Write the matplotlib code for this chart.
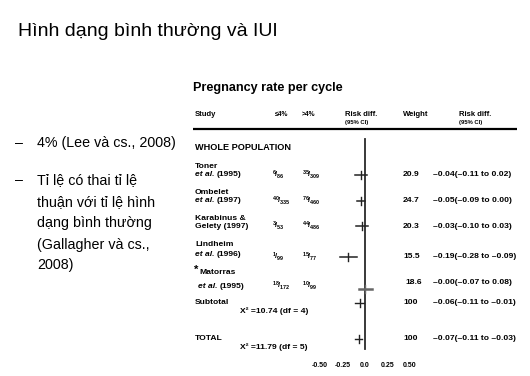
import matplotlib
matplotlib.use("Agg")
import matplotlib.pyplot as plt

plt.rcParams['font.family'] = ['Liberation Sans', 'DejaVu Sans']
plt.rcParams['mathtext.fontset'] = 'custom'
plt.rcParams['mathtext.rm'] = 'Liberation Sans:bold'
plt.rcParams['mathtext.bf'] = 'Liberation Sans:bold'
plt.rcParams['mathtext.it'] = 'Liberation Sans:italic:bold'

# ---------------- data ----------------
slide_title = "Hình dạng bình thường và IUI"
bullets = [["4% (Lee và cs., 2008)"],
           ["Tỉ lệ có thai tỉ lệ", "thuận với tỉ lệ hình", "dạng bình thường",
            "(Gallagher và cs.,", "2008)"]]
plot_title = "Pregnancy rate per cycle"
study_line1 = ["Toner", "Ombelet", "Karabinus &", "Lindheim", "Matorras"]
study_star = [False, False, False, False, True]
study_etal = [True, True, False, True, True]
study_line2 = ["(1995)", "(1997)", "Gelety (1997)", "(1996)", "(1995)"]
low_num = [6, 40, 3, 1, 18]
low_den = [86, 335, 53, 99, 172]
high_num = [35, 76, 44, 15, 10]
high_den = [309, 460, 486, 77, 99]
rd = [-0.04, -0.05, -0.03, -0.19, -0.00]
rd_lo = [-0.11, -0.09, -0.10, -0.28, -0.07]
rd_hi = [0.02, 0.00, 0.03, -0.09, 0.08]
weights = [20.9, 24.7, 20.3, 15.5, 18.6]
pooled_labels = ["Subtotal", "TOTAL"]
pooled_rd = [-0.06, -0.07]
pooled_lo = [-0.11, -0.11]
pooled_hi = [-0.01, -0.03]
pooled_weight = [100, 100]
pooled_chi2 = [10.74, 11.79]
pooled_df = [4, 5]
tick_values = [-0.50, -0.25, 0.0, 0.25, 0.50]
tick_labels = ["-0.50", "-0.25", "0.0", "0.25", "0.50"]

# ---------------- layout ----------------
W, H = 530, 376
fig = plt.figure(figsize=(W / 100, H / 100), dpi=100)
fig.patch.set_facecolor("white")

tax = fig.add_axes([0, 0, 1, 1])
tax.set_xlim(0, W)
tax.set_ylim(H, 0)
tax.axis("off")

# slide title and bullets
tax.text(18, 32, slide_title, fontsize=14, va="center", ha="left", color="black")
bullet_y = [[143], [180, 202, 223, 245, 265]]
for lines, ys in zip(bullets, bullet_y):
    tax.text(15, ys[0], "–", fontsize=10.3, va="center", ha="left")
    for t, y in zip(lines, ys):
        tax.text(37, y, t, fontsize=10.3, va="center", ha="left")

# forest plot texts
bold = dict(fontweight="bold", va="center", ha="left", color="black")
tax.text(193, 88, plot_title, fontsize=9.1, **bold)
hs = 5.5
tax.text(195, 115, "Study", fontsize=hs, **bold)
tax.text(275, 115, "≤4%", fontsize=hs - 0.6, **bold)
tax.text(302, 115, ">4%", fontsize=hs - 0.6, **bold)
tax.text(345, 115, "Risk diff.", fontsize=hs, **bold)
tax.text(345, 122.5, "(95% CI)", fontsize=hs - 1.3, **bold)
tax.text(403, 115, "Weight", fontsize=hs, **bold)
tax.text(459, 115, "Risk diff.", fontsize=hs, **bold)
tax.text(459, 122.5, "(95% CI)", fontsize=hs - 1.3, **bold)
tax.plot([193, 517], [129, 129], color="black", lw=1.6, solid_capstyle="butt")
tax.text(195, 147, "WHOLE POPULATION", fontsize=6.6, **bold)

row_y1 = [166, 192, 218, 245, 273]
row_y2 = [174.5, 201, 227, 254, 286]
row_x = [195, 195, 195, 195, 198]
mark_y = [175, 201, 226, 257, 289]
val_y = [175, 201, 226, 257, 283]
frac_y = [175, 201, 226, 257, 286]
weight_x = [403, 403, 403, 403, 405]
fs = 6.1


def fmt(v):
    s = f"{v:.2f}"
    return s.replace("-", "–")


def ci_text(c, l, h):
    return f"{fmt(c)}({fmt(l)} to {fmt(h)})"


for i in range(len(study_line1)):
    if study_star[i]:
        tax.text(194, row_y1[i] - 3, "*", fontsize=8, **bold)
        tax.text(row_x[i] + 1, row_y1[i], study_line1[i], fontsize=fs, **bold)
    else:
        tax.text(row_x[i], row_y1[i], study_line1[i], fontsize=fs, **bold)
    if study_etal[i]:
        tax.text(row_x[i], row_y2[i], "et al.", fontsize=fs, fontstyle="italic", **bold)
        tax.text(row_x[i] + 22, row_y2[i], study_line2[i], fontsize=fs, **bold)
    else:
        tax.text(row_x[i], row_y2[i], study_line2[i], fontsize=fs, **bold)
    tax.text(272, frac_y[i], rf"$^{{{low_num[i]}}}\!/_{{{low_den[i]}}}$", fontsize=5.6,
             va="center", ha="left")
    tax.text(302, frac_y[i], rf"$^{{{high_num[i]}}}\!/_{{{high_den[i]}}}$", fontsize=5.6,
             va="center", ha="left")
    tax.text(weight_x[i], val_y[i], f"{weights[i]:.1f}", fontsize=fs, **bold)
    tax.text(433, val_y[i], ci_text(rd[i], rd_lo[i], rd_hi[i]), fontsize=fs, **bold)

pooled_y = [303, 338]
chi_y = [311, 347]
pooled_mark_y = [303, 339]
for j in range(2):
    tax.text(195, pooled_y[j], pooled_labels[j], fontsize=fs, **bold)
    tax.text(240, chi_y[j], f"X² =" + f"{pooled_chi2[j]:.2f} (df = {pooled_df[j]})",
             fontsize=fs, **bold)
    tax.text(403, pooled_y[j], f"{pooled_weight[j]}", fontsize=fs, **bold)
    tax.text(433, pooled_y[j], ci_text(pooled_rd[j], pooled_lo[j], pooled_hi[j]),
             fontsize=fs, **bold)

# forest axes: x in risk-difference units, y in pixel rows
px_per_unit = 90.0
x0_px, ax_l, ax_r = 365, 310, 420
ax_top, ax_bot = 130, 356
fax = fig.add_axes([ax_l / W, (H - ax_bot) / H, (ax_r - ax_l) / W, (ax_bot - ax_top) / H])
fax.set_xlim((ax_l - x0_px) / px_per_unit, (ax_r - x0_px) / px_per_unit)
fax.set_ylim(ax_bot, ax_top)
fax.patch.set_alpha(0)
for s in fax.spines.values():
    s.set_visible(False)
fax.set_yticks([])
fax.set_xticks(tick_values)
fax.set_xticklabels(tick_labels, fontsize=5.0, fontweight="bold")
fax.tick_params(axis="x", length=0, pad=4)

fax.plot([0, 0], [139, 349], color="#2a2a2a", lw=1.3)
line_col = ["#222222"] * 4 + ["#666666"]
line_w = [1.1] * 4 + [1.8]
for i in range(len(rd)):
    fax.plot([rd_lo[i], rd_hi[i]], [mark_y[i], mark_y[i]], color=line_col[i], lw=line_w[i])
    fax.plot([rd[i], rd[i]], [mark_y[i] - 4, mark_y[i] + 4], color=line_col[i], lw=1.0)
for j in range(2):
    fax.plot([pooled_lo[j], pooled_hi[j]], [pooled_mark_y[j]] * 2, color="#222222", lw=1.0)
    fax.plot([pooled_rd[j]] * 2, [pooled_mark_y[j] - 4, pooled_mark_y[j] + 4],
             color="#222222", lw=1.0)

fig.savefig("out.png", dpi=100)
